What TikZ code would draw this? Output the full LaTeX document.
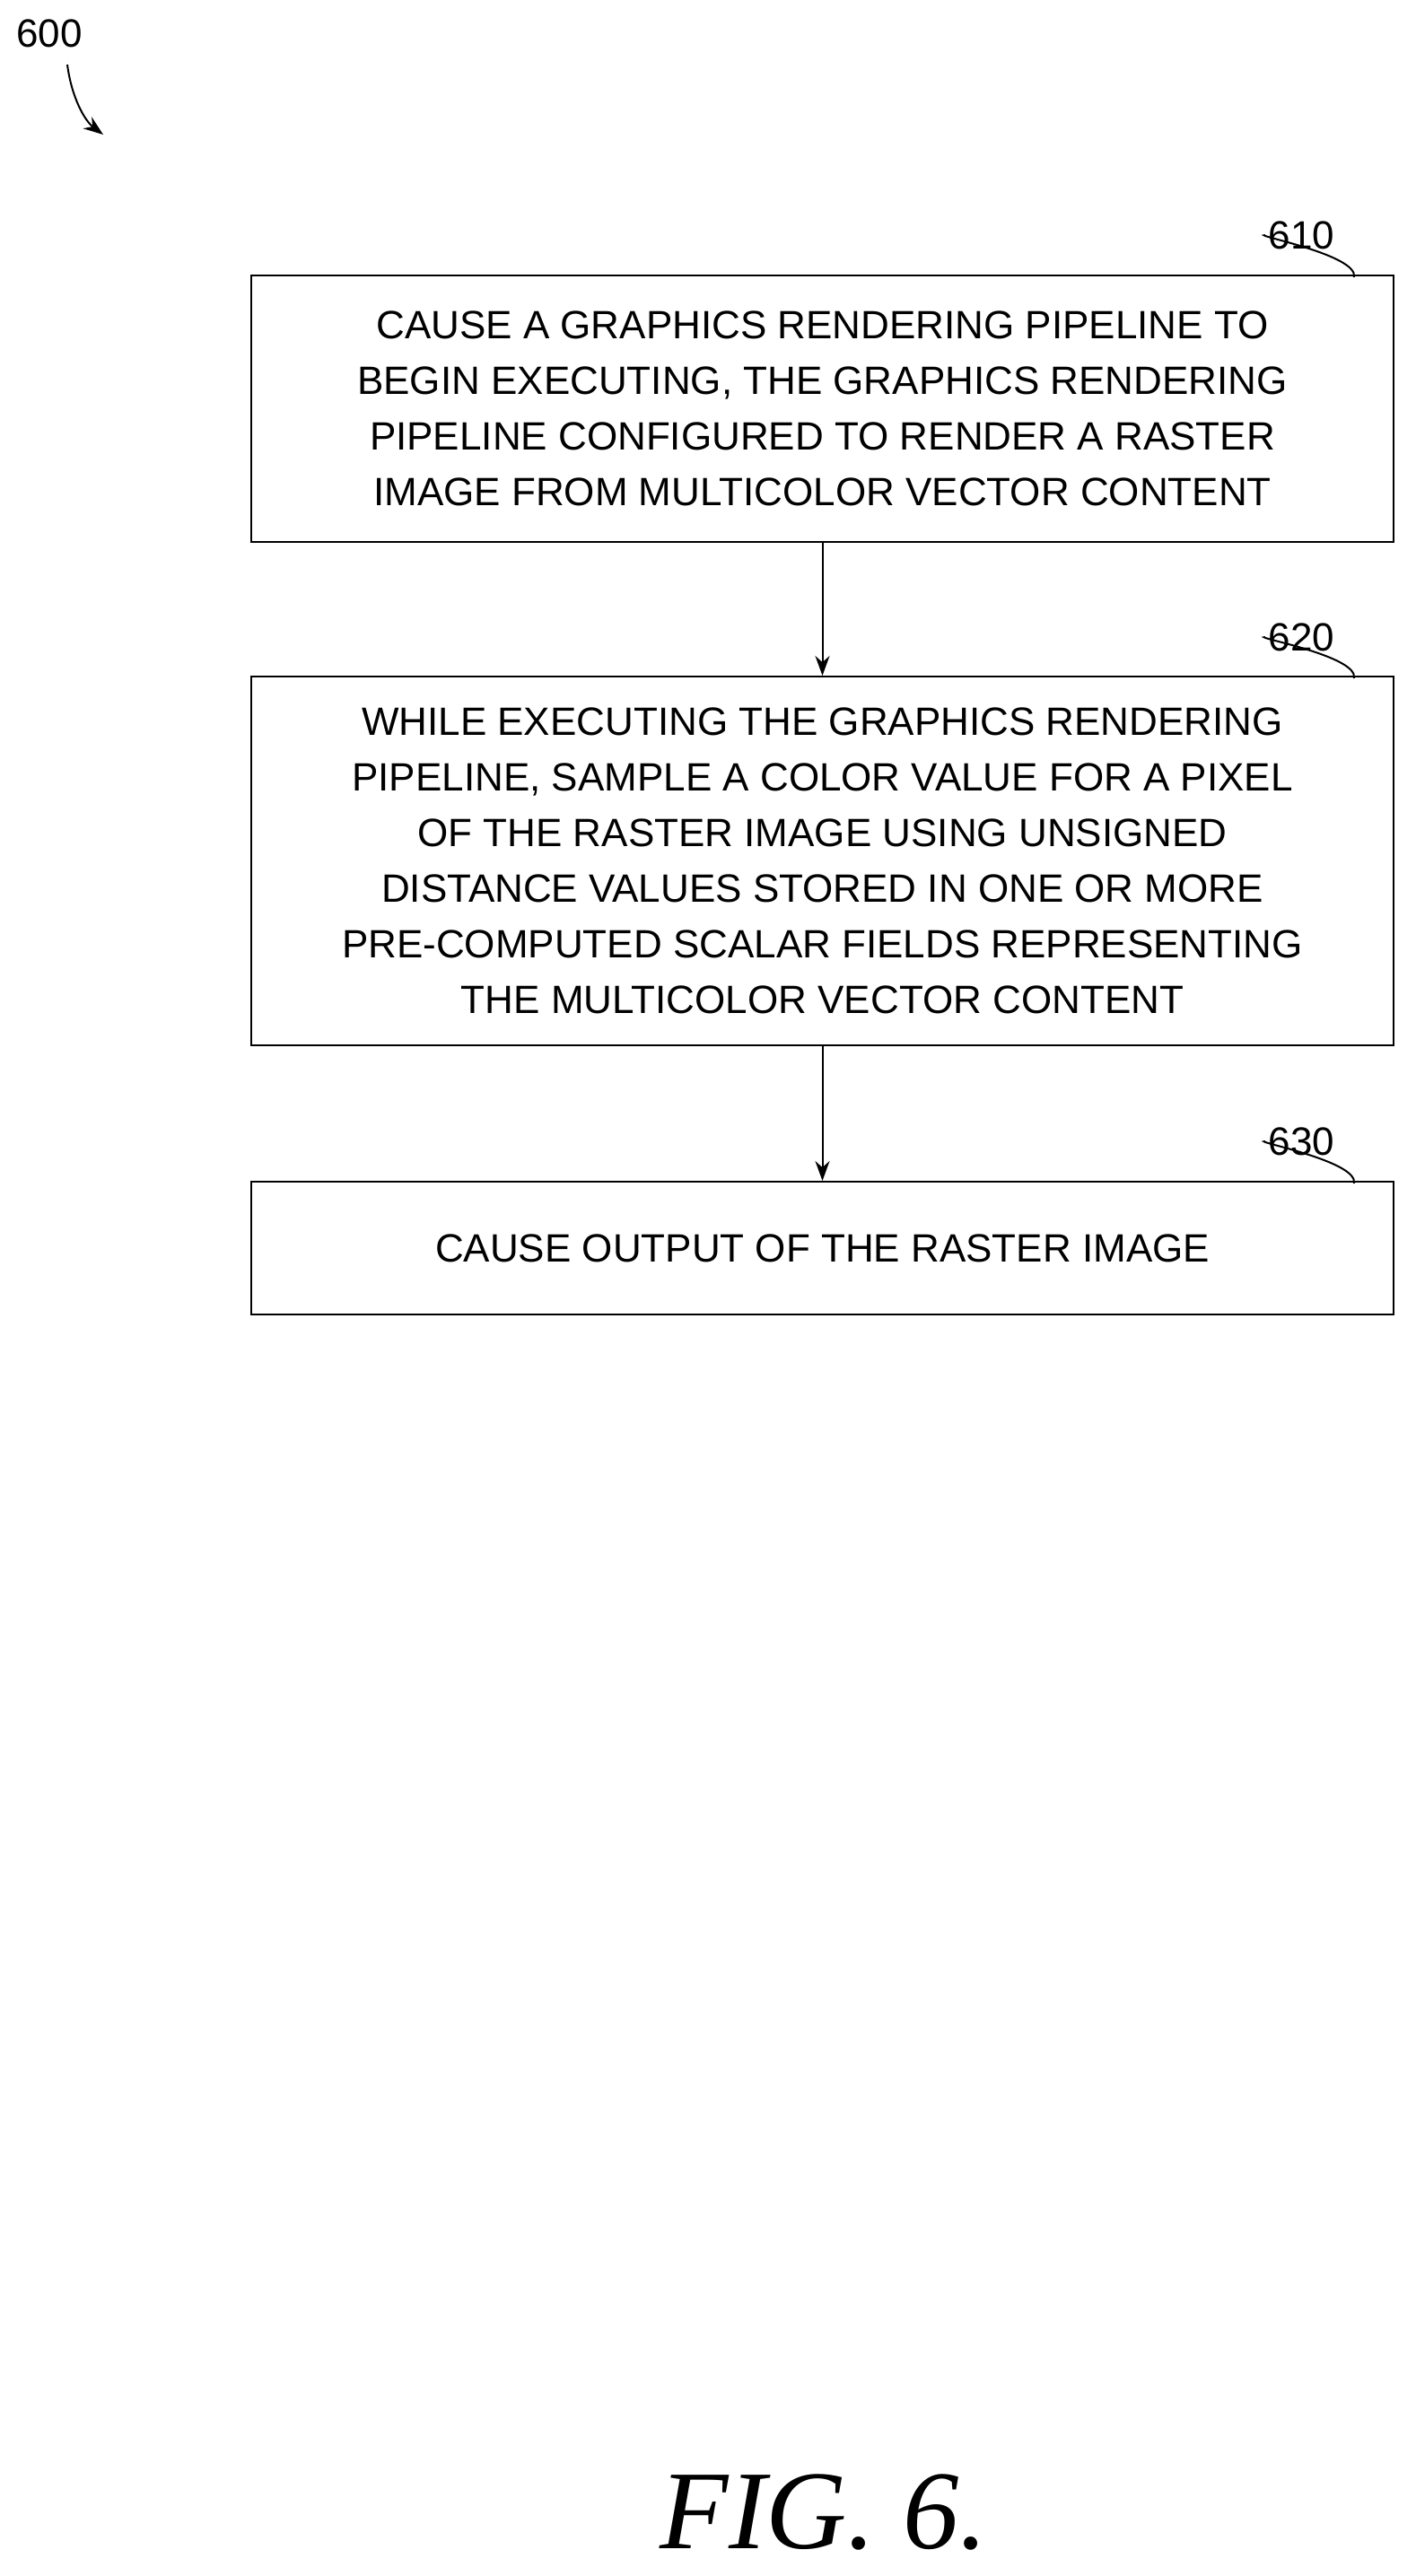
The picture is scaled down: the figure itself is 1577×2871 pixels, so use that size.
\documentclass[tikz,border=0pt]{standalone}
\usepackage{fontspec}
\setmainfont{Liberation Sans}
\newfontfamily\figfont{Liberation Serif}
\usetikzlibrary{arrows.meta}
\begin{document}
\begin{tikzpicture}[x=1pt,y=-1pt,
  stepbox/.style={draw,line width=2pt,minimum width=1273pt,align=center,font=\fontsize{44}{62}\selectfont,inner sep=0pt},
  lbl/.style={font=\fontsize{44}{50}\selectfont},
  arr/.style={-{Stealth[length=22pt,width=16pt]},line width=2pt}]
\useasboundingbox (0,0) rectangle (1577,2871);
\node[stepbox,minimum height=297pt] (b1) at (916.5,455.5) {CAUSE A GRAPHICS RENDERING PIPELINE TO\\BEGIN EXECUTING, THE GRAPHICS RENDERING\\PIPELINE CONFIGURED TO RENDER A RASTER\\IMAGE FROM MULTICOLOR VECTOR CONTENT};
\node[stepbox,minimum height=411pt] (b2) at (916.5,959.5) {WHILE EXECUTING THE GRAPHICS RENDERING\\PIPELINE, SAMPLE A COLOR VALUE FOR A PIXEL\\OF THE RASTER IMAGE USING UNSIGNED\\DISTANCE VALUES STORED IN ONE OR MORE\\PRE-COMPUTED SCALAR FIELDS REPRESENTING\\THE MULTICOLOR VECTOR CONTENT};
\node[stepbox,minimum height=148pt] (b3) at (916.5,1391) {CAUSE OUTPUT OF THE RASTER IMAGE};
\draw[arr] (b1) -- (b2);
\draw[arr] (b2) -- (b3);
\node[lbl,anchor=west] (l1) at (1410,262) {610};
\node[lbl,anchor=west] (l2) at (1410,710) {620};
\node[lbl,anchor=west] (l3) at (1410,1272) {630};
\foreach \l/\b in {l1/b1,l2/b2,l3/b3}
  \draw[line width=2pt] ([xshift=-45pt,yshift=-3pt]\b.north east) .. controls +(5,-25) and +(-15,0) .. (\l.west);
\node[lbl,anchor=west] (n600) at (15,37) {600};
\coordinate (a600) at (115,150);
\draw[arr] (75,72) .. controls (80,110) and (95,135) .. (a600);
\node[font=\figfont\itshape\fontsize{125}{130}\selectfont] (fig) at (918,2800) {FIG. 6.};
\end{tikzpicture}
\end{document}
